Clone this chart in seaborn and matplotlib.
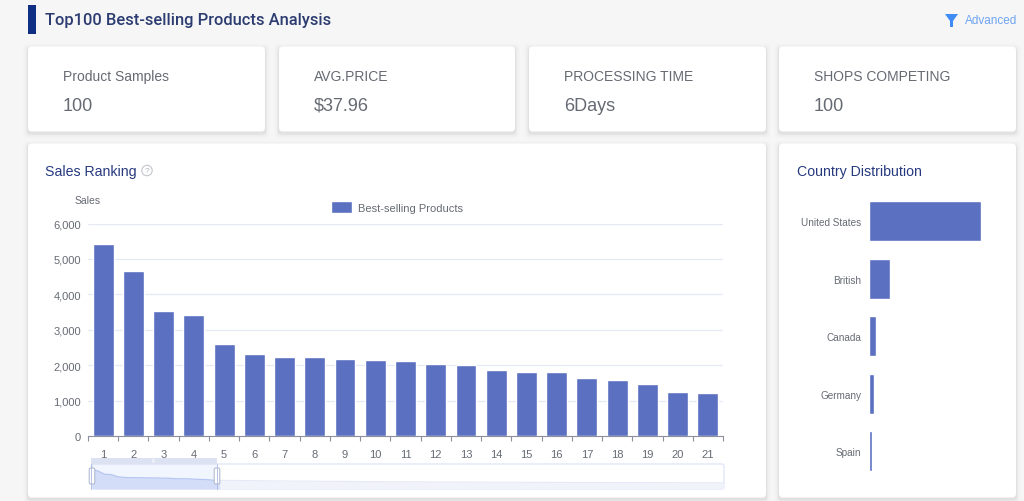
import matplotlib
matplotlib.use("Agg")
import matplotlib.pyplot as plt
from matplotlib.patches import FancyBboxPatch, Rectangle, Circle, Polygon
import pandas as pd
import seaborn as sns

# =============================================================================
# DATA
# =============================================================================
ranks = list(range(1, 22))
sales = [5420, 4670, 3520, 3410, 2590, 2320, 2240, 2220, 2180, 2140, 2110,
         2030, 2010, 1860, 1810, 1810, 1640, 1570, 1480, 1230, 1220]
tail_ranks = [30, 40, 50, 60, 70, 80, 90, 100]
tail_sales = [980, 800, 650, 540, 450, 380, 320, 280]

countries = ["United States", "British", "Canada", "Germany", "Spain"]
country_counts = [74, 14, 5, 3.5, 2]

kpi_labels = ["Product Samples", "AVG.PRICE", "PROCESSING TIME", "SHOPS COMPETING"]
kpi_values = ["100", "$37.96", "6Days", "100"]
y_ticks = [0, 1000, 2000, 3000, 4000, 5000, 6000]

BAR = "#5b70c1"
NAVY = "#26397f"
GREY = "#666a73"
W, H = 1024, 502

sns.set_theme(style="white")
plt.rcParams["font.family"] = ["Liberation Sans", "DejaVu Sans"]


def ax_at(fig, x0, y0, x1, y1):
    # pixel box, y measured from the top of the image
    return fig.add_axes([x0 / W, 1 - y1 / H, (x1 - x0) / W, (y1 - y0) / H])


def card(bg, x0, y0, x1, y1):
    for grow, alpha in [(5, 0.008), (3.5, 0.014), (2, 0.025), (1, 0.035)]:
        bg.add_patch(FancyBboxPatch(
            (x0 - grow, y0 - grow + 2), x1 - x0 + 2 * grow, y1 - y0 + 2 * grow,
            boxstyle="round,pad=0,rounding_size=4", fc="black", ec="none", alpha=alpha))
    bg.add_patch(FancyBboxPatch(
        (x0, y0), x1 - x0, y1 - y0,
        boxstyle="round,pad=0,rounding_size=4", fc="white", ec="none"))


fig = plt.figure(figsize=(W / 100, H / 100), dpi=100, facecolor="#f6f6f7")

# page furniture drawn in image pixels
bg = fig.add_axes([0, 0, 1, 1])
bg.set_xlim(0, W)
bg.set_ylim(H, 0)
bg.axis("off")

bg.add_patch(Rectangle((28, 6), 8, 29, fc="#0f2f85", ec="none"))
bg.text(45, 21, "Top100 Best-selling Products Analysis", fontsize=11.85, fontweight="medium",
        family=["Roboto", "DejaVu Sans"], color="#2c3c70", va="center")
bg.add_patch(Polygon([(945, 15), (958, 15), (953, 22), (953, 28), (950, 28), (950, 22)],
                     fc="#3f8cf4", ec="none"))
bg.text(1017, 21, "Advanced", fontsize=8.5, color="#6ea4f2", va="center", ha="right")

kpi_boxes = [(28, 265), (279, 515), (529, 766), (779, 1016)]
for (x0, x1), label, value in zip(kpi_boxes, kpi_labels, kpi_values):
    card(bg, x0, 47.5, x1, 132.5)
    bg.text(x0 + 35, 77, label, fontsize=10, color=GREY, va="center")
    bg.text(x0 + 35, 106.5, value, fontsize=13, color=GREY, va="center")

card(bg, 28, 144.5, 766, 498.5)
card(bg, 779, 144.5, 1016, 498.5)
bg.text(45, 172, "Sales Ranking", fontsize=10.2, color=NAVY, va="center")
bg.add_patch(Circle((147, 171.5), 5.2, fc="none", ec="#c4c6cc", lw=0.8))
bg.text(147, 171.5, "?", fontsize=6, color="#b4b6bc", ha="center", va="center")
bg.text(797, 172, "Country Distribution", fontsize=10.2, color=NAVY, va="center")
bg.text(88, 201, "Sales", fontsize=7.5, color=GREY, va="center", ha="center")

# sales ranking bars
df_sales = pd.DataFrame({"rank": ranks, "sales": sales})
ax = ax_at(fig, 88, 224.5, 723, 437)
ax.patch.set_alpha(0)
sns.barplot(data=df_sales, x="rank", y="sales", color=BAR, saturation=1, width=0.69,
            label="Best-selling Products", ax=ax)
ax.set_xlim(-0.5, len(ranks) - 0.5)
ax.set_ylim(0, 6000)
ax.set_yticks(y_ticks)
ax.set_yticklabels([f"{v:,}" for v in y_ticks])
ax.set_xlabel("")
ax.set_ylabel("")
ax.set_xticks([i - 0.5 for i in range(len(ranks) + 1)], minor=True)
ax.tick_params(axis="x", which="major", length=0, pad=9.5, labelsize=8, labelcolor=GREY)
ax.tick_params(axis="x", which="minor", length=3.5, width=0.8, color="#8d909c", bottom=True)
ax.tick_params(axis="y", length=0, pad=5, labelsize=8, labelcolor=GREY)
ax.grid(axis="y", color="#e6e8f4", lw=0.9)
ax.set_axisbelow(True)
for side in ["top", "right", "left"]:
    ax.spines[side].set_visible(False)
ax.spines["bottom"].set_color("#8d909c")
ax.spines["bottom"].set_linewidth(0.8)
ax.legend(loc="center", bbox_to_anchor=(397 / W, 1 - 208 / H), bbox_transform=fig.transFigure,
          frameon=False, fontsize=8, labelcolor=GREY, handlelength=1.9, handleheight=1.4,
          handletextpad=0.5)

# country distribution bars
df_country = pd.DataFrame({"country": countries, "count": country_counts})
ax2 = ax_at(fig, 868.5, 193.5, 981, 481)
ax2.patch.set_alpha(0)
sns.barplot(data=df_country, y="country", x="count", color=BAR, saturation=1, width=0.69, ax=ax2)
ax2.set_xlim(0, max(country_counts))
ax2.set_xlabel("")
ax2.set_ylabel("")
ax2.set_xticks([])
ax2.tick_params(axis="y", length=0, pad=5, labelsize=7.2, labelcolor=GREY)
sns.despine(ax=ax2, left=True, bottom=True)

# data zoom strip: overview of all 100 ranks
bg.add_patch(FancyBboxPatch((92, 465), 632, 25, boxstyle="round,pad=0,rounding_size=2",
                            fc="white", ec="#dfe5f8", lw=0.9))
ax3 = ax_at(fig, 92, 465, 724, 490)
ax3.patch.set_alpha(0)
all_ranks = ranks + tail_ranks
all_sales = sales + tail_sales
ax3.set_xlim(1, 100)
ax3.set_ylim(-2100, 7440)
ax3.fill_between(all_ranks, all_sales, -2100, color="#f1f3fb", lw=0)
sns.lineplot(x=all_ranks, y=all_sales, color="#e6e9f6", lw=0.8, ax=ax3)
ax3.fill_between(ranks, sales, -2100, color="#d3ddf9", lw=0, alpha=0.8, zorder=3)
sns.lineplot(x=ranks, y=sales, color="#b4c5f3", lw=0.8, ax=ax3, zorder=4)
ax3.axis("off")

fg = fig.add_axes([0, 0, 1, 1], zorder=5)
fg.set_xlim(0, W)
fg.set_ylim(H, 0)
fg.axis("off")
fg.add_patch(Rectangle((91, 465), 126, 25, fc="#bccdf7", ec="none", alpha=0.2))
fg.add_patch(Rectangle((91, 459), 126, 6, fc="#dde2f2", ec="none"))
fg.plot([91, 91], [465, 490], color="#a9b8e0", lw=0.6)
fg.plot([217, 217], [465, 490], color="#a9b8e0", lw=0.6)
for hx in [92, 217]:
    fg.add_patch(FancyBboxPatch((hx - 2.8, 469), 5.6, 16, boxstyle="round,pad=0,rounding_size=1.5",
                                fc="white", ec="#a9b4cc", lw=0.7))
fg.text(154, 462, "III", fontsize=3.5, color="#ffffff", ha="center", va="center")

fig.savefig("out.png", dpi=100, facecolor=fig.get_facecolor())
